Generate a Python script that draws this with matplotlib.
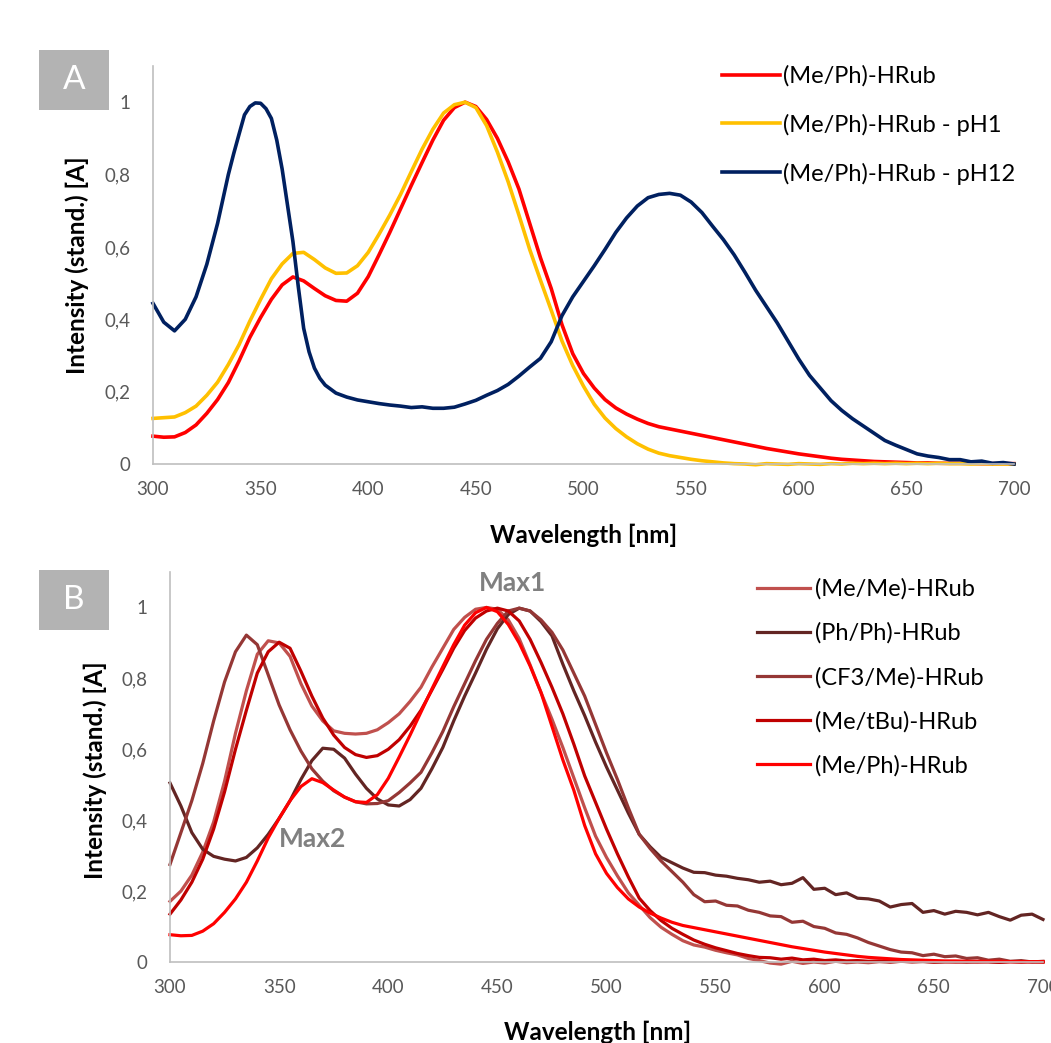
import matplotlib.pyplot as plt
from matplotlib.patches import Rectangle
from matplotlib.ticker import FuncFormatter

plt.rcParams['font.family'] = ['Lato', 'DejaVu Sans']

# wavelength grid (nm), 5 nm steps
wl = list(range(300, 705, 5))
wl_ph12 = list(range(300, 335, 5)) + [335 + 2.5 * i for i in range(18)] + list(range(380, 705, 5))

# panel A : (Me/Ph)-HRub at different pH
me_ph = [0.077, 0.074, 0.075, 0.087, 0.108, 0.140, 0.178, 0.225, 0.285, 0.350,
         0.405, 0.455, 0.495, 0.517, 0.506, 0.485, 0.465, 0.452, 0.450, 0.472,
         0.518, 0.578, 0.640, 0.705, 0.770, 0.833, 0.895, 0.950, 0.985, 1.000,
         0.988, 0.952, 0.900, 0.835, 0.760, 0.665, 0.570, 0.485, 0.385, 0.305,
         0.250, 0.210, 0.178, 0.155, 0.138, 0.124, 0.112, 0.103, 0.097, 0.091,
         0.085, 0.079, 0.073, 0.067, 0.061, 0.055, 0.049, 0.043, 0.038, 0.033,
         0.028, 0.024, 0.020, 0.016, 0.013, 0.011, 0.009, 0.007, 0.006, 0.005,
         0.004, 0.003, 0.003, 0.002, 0.002, 0.002, 0.002, 0.001, 0.001, 0.001,
         0.001]
me_ph_ph1 = [0.126, 0.128, 0.130, 0.142, 0.160, 0.190, 0.226, 0.275, 0.330, 0.395,
             0.455, 0.512, 0.553, 0.582, 0.585, 0.565, 0.542, 0.527, 0.528, 0.548,
             0.585, 0.635, 0.688, 0.745, 0.808, 0.870, 0.925, 0.970, 0.993, 1.000,
             0.985, 0.935, 0.862, 0.780, 0.688, 0.593, 0.508, 0.425, 0.340, 0.272,
             0.215, 0.165, 0.127, 0.098, 0.075, 0.056, 0.041, 0.030, 0.023, 0.018,
             0.013, 0.009, 0.006, 0.003, 0.001, 0.000, -0.002, 0.001, 0.000, -0.001,
             0.001, 0.000, -0.001, 0.001, 0.000, 0.002, 0.001, 0.002, 0.001, 0.002,
             0.001, 0.002, 0.001, 0.002, 0.001, 0.001, 0.000, 0.001, 0.000, 0.000,
             0.000]
me_ph_ph12 = [0.444, 0.392, 0.368, 0.400, 0.462, 0.552, 0.665,
              0.800, 0.858, 0.912, 0.965, 0.988, 0.998, 0.997, 0.982, 0.955,
              0.895, 0.815, 0.715, 0.615, 0.490, 0.375, 0.310, 0.265, 0.237,
              0.218, 0.196, 0.185, 0.177,
              0.172, 0.167, 0.163, 0.160, 0.156, 0.158, 0.154, 0.154, 0.157, 0.166,
              0.176, 0.190, 0.203, 0.220, 0.243, 0.268, 0.292, 0.338, 0.410, 0.462,
              0.505, 0.548, 0.593, 0.640, 0.680, 0.713, 0.736, 0.745, 0.748, 0.743,
              0.724, 0.695, 0.657, 0.620, 0.578, 0.530, 0.480, 0.435, 0.390, 0.340,
              0.290, 0.245, 0.210, 0.175, 0.148, 0.125, 0.105, 0.085, 0.065, 0.052,
              0.040, 0.028, 0.022, 0.018, 0.012, 0.012, 0.006, 0.008, 0.002, 0.004,
              0.000]

# panel B : substituent series
me_me = [0.171, 0.200, 0.245, 0.310, 0.395, 0.510, 0.645, 0.765, 0.868, 0.906,
         0.900, 0.862, 0.785, 0.722, 0.680, 0.652, 0.645, 0.643, 0.645, 0.655,
         0.675, 0.700, 0.735, 0.775, 0.832, 0.885, 0.938, 0.972, 0.995, 1.000,
         0.995, 0.965, 0.912, 0.838, 0.760, 0.685, 0.605, 0.520, 0.435, 0.355,
         0.295, 0.243, 0.195, 0.160, 0.125, 0.098, 0.078, 0.060, 0.048, 0.042,
         0.033, 0.026, 0.020, 0.010, 0.004, -0.003, -0.006, 0.002, -0.004, 0.000,
         -0.003, 0.002, -0.002, 0.000, -0.002, 0.001, -0.001, 0.002, 0.000, 0.001,
         -0.001, 0.000, 0.001, -0.001, 0.001, 0.000, -0.001, 0.001, 0.000, 0.001,
         0.000]
ph_ph = [0.505, 0.440, 0.365, 0.318, 0.298, 0.290, 0.285, 0.295, 0.322, 0.360,
         0.405, 0.455, 0.515, 0.568, 0.603, 0.600, 0.575, 0.530, 0.490, 0.460,
         0.443, 0.440, 0.458, 0.490, 0.545, 0.605, 0.680, 0.750, 0.815, 0.882,
         0.940, 0.980, 0.998, 0.990, 0.960, 0.920, 0.840, 0.765, 0.695, 0.620,
         0.550, 0.485, 0.420, 0.360, 0.325, 0.295, 0.280, 0.265, 0.253, 0.252,
         0.245, 0.242, 0.236, 0.232, 0.225, 0.228, 0.218, 0.222, 0.238, 0.205,
         0.208, 0.190, 0.195, 0.180, 0.178, 0.172, 0.155, 0.162, 0.165, 0.140,
         0.145, 0.135, 0.143, 0.140, 0.133, 0.140, 0.128, 0.118, 0.132, 0.135,
         0.120]
cf3_me = [0.275, 0.365, 0.455, 0.560, 0.680, 0.790, 0.875, 0.922, 0.895, 0.810,
          0.725, 0.655, 0.595, 0.545, 0.510, 0.483, 0.465, 0.452, 0.446, 0.447,
          0.455, 0.478, 0.505, 0.535, 0.590, 0.650, 0.720, 0.785, 0.850, 0.910,
          0.955, 0.990, 0.998, 0.990, 0.965, 0.930, 0.880, 0.815, 0.750, 0.670,
          0.590, 0.515, 0.435, 0.360, 0.320, 0.285, 0.255, 0.225, 0.190, 0.170,
          0.172, 0.160, 0.158, 0.146, 0.140, 0.130, 0.128, 0.112, 0.115, 0.100,
          0.095, 0.082, 0.078, 0.068, 0.055, 0.045, 0.035, 0.028, 0.026, 0.018,
          0.022, 0.015, 0.017, 0.010, 0.012, 0.005, 0.008, 0.002, 0.004, 0.000,
          0.002]
me_tbu = [0.135, 0.175, 0.225, 0.290, 0.375, 0.480, 0.600, 0.710, 0.815, 0.875,
          0.902, 0.885, 0.820, 0.750, 0.688, 0.640, 0.605, 0.585, 0.577, 0.582,
          0.600, 0.627, 0.665, 0.710, 0.767, 0.825, 0.885, 0.935, 0.970, 0.990,
          0.998, 0.990, 0.962, 0.910, 0.845, 0.775, 0.700, 0.615, 0.525, 0.450,
          0.375, 0.305, 0.240, 0.180, 0.145, 0.117, 0.095, 0.078, 0.062, 0.050,
          0.040, 0.032, 0.024, 0.018, 0.013, 0.012, 0.008, 0.011, 0.006, 0.008,
          0.004, 0.006, 0.003, 0.004, 0.002, 0.003, 0.001, 0.002, 0.001, 0.002,
          0.000, 0.001, 0.000, 0.001, 0.000, 0.001, -0.001, 0.001, 0.000, 0.001,
          0.000]

labels_a = ['(Me/Ph)-HRub', '(Me/Ph)-HRub - pH1', '(Me/Ph)-HRub - pH12']
colors_a = ['#FF0000', '#FFC000', '#002060']
labels_b = ['(Me/Me)-HRub', '(Ph/Ph)-HRub', '(CF3/Me)-HRub', '(Me/tBu)-HRub', '(Me/Ph)-HRub']
colors_b = ['#C0504D', '#632523', '#953735', '#C00000', '#FF0000']

W, H = 1051, 1043
fig = plt.figure(figsize=(W / 100, H / 100), dpi=100)
axA = fig.add_axes([153 / W, 1 - 464 / H, 861 / W, 398 / H])
axB = fig.add_axes([170 / W, 1 - 962 / H, 873 / W, 390 / H])

grey = '#595959'
comma = FuncFormatter(lambda v, p: ('%g' % round(v, 2)).replace('.', ','))


def style(ax):
    ax.set_xlim(300, 700)
    ax.set_ylim(0, 1.1)
    ax.set_xticks(range(300, 701, 50))
    ax.set_yticks([0, 0.2, 0.4, 0.6, 0.8, 1.0])
    ax.yaxis.set_major_formatter(comma)
    for s in ['top', 'right']:
        ax.spines[s].set_visible(False)
    for s in ['left', 'bottom']:
        ax.spines[s].set_color('#BFBFBF')
        ax.spines[s].set_linewidth(1.2)
    ax.tick_params(length=0, labelsize=13.5, labelcolor=grey)
    ax.tick_params(axis='y', pad=16)
    ax.tick_params(axis='x', pad=12)
    ax.set_xlabel('Wavelength [nm]', fontsize=17.5, fontweight='bold')
    ax.set_ylabel('Intensity (stand.) [A]', fontsize=17.5, fontweight='bold')
    ax.xaxis.label.set_va('center')
    ax.yaxis.label.set_va('center')


for xs, ys, lab, c in zip([wl, wl, wl_ph12], [me_ph, me_ph_ph1, me_ph_ph12], labels_a, colors_a):
    axA.plot(xs, ys, color=c, lw=2.6, label=lab, clip_on=False)
style(axA)
axA.xaxis.set_label_coords(0.5, -0.178)
axA.yaxis.set_label_coords(-0.088, 0.5)
axA.legend(loc='center left', bbox_to_anchor=(722 / W, 1 - 125 / H), bbox_transform=fig.transFigure,
           frameon=False, fontsize=17, handlelength=2.45, handletextpad=0.15,
           labelspacing=1.13, borderpad=0, borderaxespad=0)

for ys, lab, c in zip([me_me, ph_ph, cf3_me, me_tbu, me_ph], labels_b, colors_b):
    axB.plot(wl, ys, color=c, lw=2.3, label=lab, clip_on=False)
style(axB)
axB.xaxis.set_label_coords(0.49, -0.18)
axB.yaxis.set_label_coords(-0.086, 0.492)
axB.legend(loc='center left', bbox_to_anchor=(757 / W, 1 - 677.5 / H), bbox_transform=fig.transFigure,
           frameon=False, fontsize=17, handlelength=2.25, handletextpad=0.2,
           labelspacing=0.96, borderpad=0, borderaxespad=0)

axB.text(457, 1.068, 'Max1', color='#808080', fontsize=19, fontweight='bold', ha='center', va='center')
axB.text(365.5, 0.346, 'Max2', color='#808080', fontsize=19, fontweight='bold', ha='center', va='center')

# panel letters
for letter, top in [('A', 50), ('B', 570)]:
    fig.add_artist(Rectangle((39 / W, 1 - (top + 60) / H), 70 / W, 60 / H,
                             transform=fig.transFigure, color='#B3B3B3', lw=0))
    fig.text(74 / W, 1 - (top + 30) / H, letter, color='white', fontsize=24,
             ha='center', va='center')

fig.savefig('out.png', dpi=100)
